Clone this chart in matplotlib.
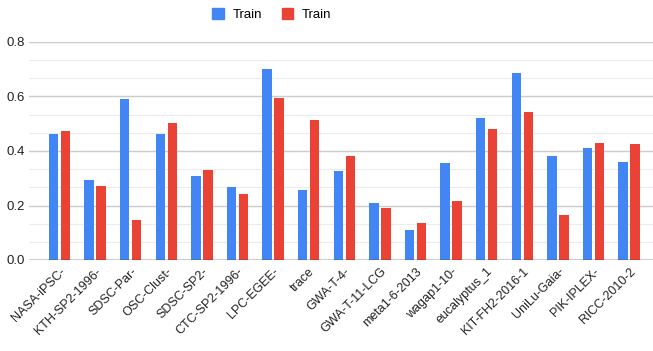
import matplotlib
matplotlib.use("Agg")
import matplotlib.pyplot as plt
import numpy as np
from matplotlib.patches import Patch

plt.rcParams['font.family'] = ['Liberation Sans', 'DejaVu Sans']

categories = ["NASA-iPSC-", "KTH-SP2-1996-", "SDSC-Par-", "OSC-Clust-", "SDSC-SP2-",
              "CTC-SP2-1996-", "LPC-EGEE-", "trace", "GWA-T-4-", "GWA-T-11-LCG",
              "meta1-6-2013", "wagap1-10-", "eucalyptus_1", "KIT-FH2-2016-1",
              "UniLu-Gaia-", "PIK-IPLEX-", "RICC-2010-2"]
train_blue = [0.461, 0.292, 0.591, 0.461, 0.308, 0.267, 0.701, 0.257, 0.325, 0.208,
              0.110, 0.355, 0.520, 0.685, 0.380, 0.411, 0.360]
train_red = [0.473, 0.271, 0.148, 0.503, 0.330, 0.242, 0.596, 0.513, 0.380, 0.191,
             0.136, 0.215, 0.482, 0.542, 0.165, 0.431, 0.427]
series_names = ["Train", "Train"]
yticks = [0.0, 0.2, 0.4, 0.6, 0.8]

blue = "#4285F4"
red = "#EA4335"

fig = plt.figure(figsize=(6.53, 3.51), dpi=100)
ax = fig.add_axes([29/653, 1 - 260/351, 1 - 29/653, (260 - 42)/351])

n = len(categories)
x = np.arange(n)
spacing = 35.6  # px per category
w = 9.5 / spacing
off = 6.0 / spacing
ax.bar(x - off, train_blue, width=w, color=blue, zorder=3)
ax.bar(x + off, train_red, width=w, color=red, zorder=3)

left_px = 29
first_center = 59.5
ax.set_xlim(-(first_center - left_px) / spacing, (653 - first_center) / spacing)
ax.set_ylim(0, 0.8)

# gridlines
minor = np.arange(0, 0.8001, 0.2 / 3)
for v in minor:
    ax.axhline(v, color="#ececec", lw=0.8, zorder=0)
for v in yticks:
    ax.axhline(v, color="#cccccc", lw=1.0, zorder=1)
ax.axhline(0, color="#333333", lw=1.0, zorder=4)

ax.set_yticks(yticks)
ax.set_yticklabels([f"{v:.1f}" for v in yticks], fontsize=9.5, color="#222222")
ax.set_xticks(x)
ax.set_xticklabels(categories, rotation=45, ha="right", rotation_mode="anchor",
                   fontsize=9, color="#222222")
ax.tick_params(axis="both", length=0, pad=4)
ax.tick_params(axis="y", pad=3)
for s in ax.spines.values():
    s.set_visible(False)

handles = [Patch(color=blue, label=series_names[0]), Patch(color=red, label=series_names[1])]
fig.legend(handles=handles, loc="upper center", bbox_to_anchor=(0.416, 1.01), ncol=2,
           frameon=False, fontsize=9.5, handlelength=0.9, handleheight=0.9,
           columnspacing=1.5, handletextpad=0.6)

fig.savefig("out.png", dpi=100)
